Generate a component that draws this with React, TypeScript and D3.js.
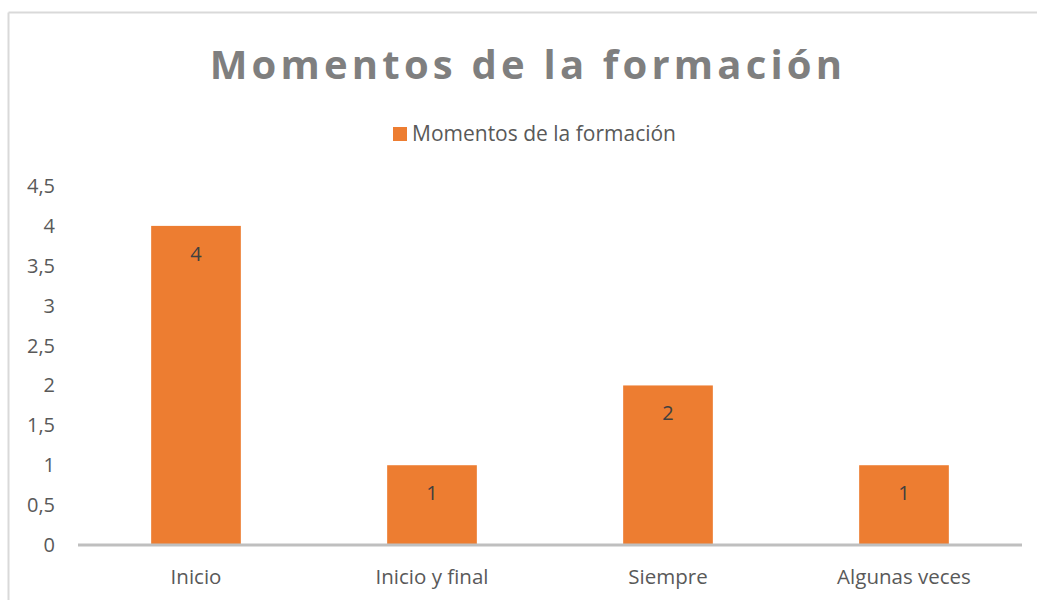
import React from "react";
import * as d3 from "d3";

const categories = ["Inicio", "Inicio y final", "Siempre", "Algunas veces"];
const values = [4, 1, 2, 1];
const yTicks = [0, 0.5, 1, 1.5, 2, 2.5, 3, 3.5, 4, 4.5];
const title = "Momentos de la formación";
const seriesName = "Momentos de la formación";

export default function App() {
  const W = 1037, H = 600;
  const x = d3.scaleBand<string>().domain(categories).range([78, 1022]).paddingInner(0.62).paddingOuter(0.31);
  const y = d3.scaleLinear().domain([0, 4.5]).range([545, 186]);
  const fmt = (v: number) => String(v).replace(".", ",");
  const font = "'Open Sans', 'Noto Sans', sans-serif";
  return (
    <svg width={W} height={H} style={{ position: "absolute", left: 0, top: 0 }} fontFamily={font}>
      <rect x={0} y={0} width={W} height={H} fill="#fff" />
      <line x1={8.5} y1={12.5} x2={W} y2={12.5} stroke="#d9d9d9" strokeWidth={2} />
      <line x1={8.5} y1={12.5} x2={8.5} y2={H} stroke="#d9d9d9" strokeWidth={2} />
      <text x={528} y={79} textAnchor="middle" fontSize={40} fontWeight="bold" fill="#7f7f7f" letterSpacing={4.2}>{title}</text>
      <rect x={393} y={127} width={14} height={14} fill="#ED7D31" />
      <text x={412} y={141} fontSize={21} fill="#595959">{seriesName}</text>
      {yTicks.map((t) => (
        <text key={t} x={55} y={y(t)} dy="0.35em" textAnchor="end" fontSize={20} fill="#595959">{fmt(t)}</text>
      ))}
      {categories.map((c, i) => (
        <g key={c}>
          <rect x={x(c)} y={y(values[i])} width={x.bandwidth()} height={y(0) - y(values[i])} fill="#ED7D31" />
          <text x={x(c)! + x.bandwidth() / 2} y={y(values[i]) + 28} dy="0.35em" textAnchor="middle" fontSize={20} fill="#404040">{values[i]}</text>
          <text x={x(c)! + x.bandwidth() / 2} y={577} dy="0.35em" textAnchor="middle" fontSize={20.5} fill="#595959">{c}</text>
        </g>
      ))}
      <line x1={78} x2={1022} y1={545} y2={545} stroke="#bfbfbf" strokeWidth={3} />
    </svg>
  );
}
